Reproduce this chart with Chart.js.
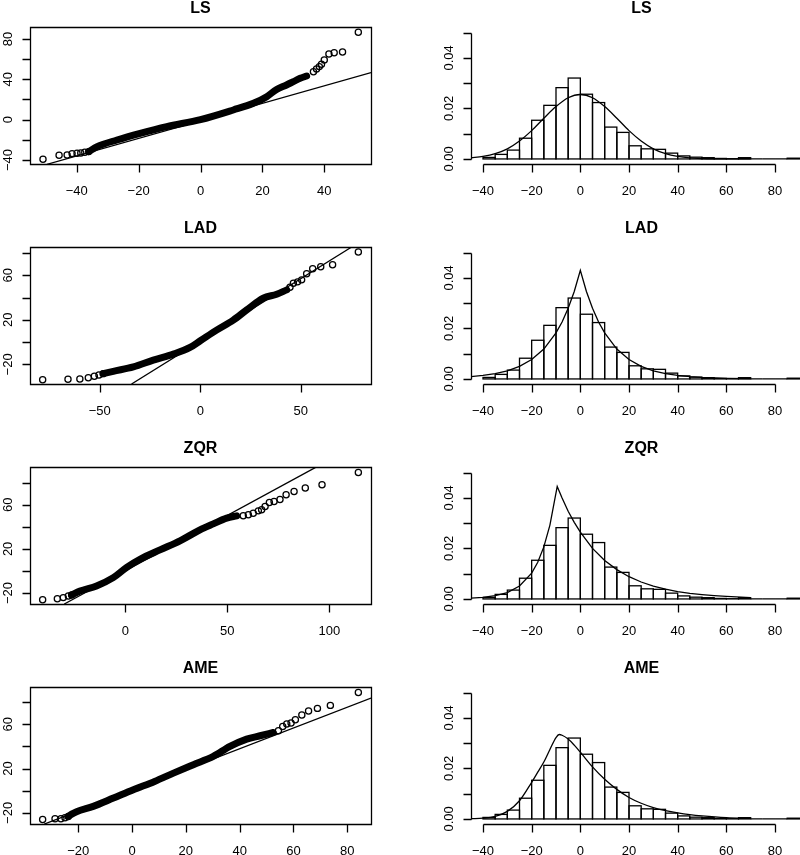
<!DOCTYPE html>
<html>
<head>
<meta charset="utf-8">
<script src="https://cdn.jsdelivr.net/npm/chart.js@4.4.0/dist/chart.umd.min.js"></script>
<style>
html, body { margin: 0; padding: 0; width: 800px; height: 855px; overflow: hidden; background: #fff; }
canvas { position: absolute; }
</style>
</head>
<body>
<script>
// ---- data ----
const titles = ["LS", "LAD", "ZQR", "AME"];

// QQ plots: sparse tail points (drawn as circles)
const lsPtsX = [-50.9, -45.7, -43.1, -41.5, -39.9, -38.7, -37.4, -36.1, 36.5, 37.5, 38.4, 39.1, 40.0, 41.5, 43.2, 45.9, 51.0];
const lsPtsY = [-39.3, -35.4, -35.0, -33.7, -33.4, -33.0, -32.4, -31.7, 47.6, 50.2, 52.6, 54.9, 59.2, 65.1, 66.4, 67.1, 86.6];
const ladPtsX = [-78.4, -65.8, -59.9, -55.7, -52.7, -50.4, -48.3, 44.6, 46.3, 48.4, 50.4, 52.9, 55.9, 59.9, 65.8, 78.6];
const ladPtsY = [-33.7, -33.4, -33.1, -31.9, -30.7, -29.5, -28.3, 49.3, 52.9, 54.1, 55.9, 61.4, 65.9, 67.7, 69.5, 80.9];
const zqrPtsX = [-40.5, -33.3, -30.4, -27.9, -26.3, 57.8, 60.3, 62.7, 65.2, 66.8, 68.5, 70.6, 72.9, 75.8, 78.8, 82.7, 88.2, 96.4, 114.2];
const zqrPtsY = [-26.1, -25.2, -24.2, -22.7, -21.8, 50.0, 50.9, 52.4, 54.5, 55.5, 58.5, 62.1, 63.0, 64.8, 69.1, 72.1, 75.2, 78.2, 89.4];
const amePtsX = [-33.2, -28.6, -26.4, -24.9, -23.7, 54.4, 56.0, 57.5, 59.1, 60.7, 63.1, 65.6, 68.9, 73.7, 84.1];
const amePtsY = [-25.9, -25.3, -25.3, -24.4, -23.2, 54.1, 58.0, 60.2, 61.1, 64.1, 68.3, 71.9, 74.3, 77.0, 88.7];

// QQ plots: the dense run of overlapping points
const lsBandX = [-36.1, -33.4, -27.0, -19.5, -10.9, 0.0, 10.6, 17.1, 21.4, 24.6, 27.8, 30.0, 32.2, 34.3];
const lsBandY = [-31.7, -26.8, -20.2, -13.6, -6.9, 0.0, 9.6, 16.2, 22.8, 30.0, 34.4, 37.7, 41.0, 43.3];
const ladBandX = [-48.3, -43.3, -33.3, -23.4, -13.4, -5.1, 0.0, 8.1, 16.4, 23.1, 31.3, 38.0, 43.0];
const ladBandY = [-28.3, -26.2, -22.3, -16.2, -10.8, -4.8, 1.2, 10.8, 19.8, 28.9, 39.4, 43.0, 46.9];
const zqrBandX = [-26.3, -22.2, -14.1, -5.9, 0.7, 7.2, 17.0, 26.8, 36.6, 43.1, 49.7, 54.6];
const zqrBandY = [-21.8, -18.2, -13.6, -6.1, 3.3, 10.6, 19.1, 27.3, 37.3, 42.7, 47.9, 50.0];
const ameBandX = [-23.7, -22.4, -20.6, -14.4, -6.9, 0.5, 8.4, 15.4, 22.8, 30.2, 36.4, 42.6, 47.6, 52.5];
const ameBandY = [-23.2, -21.1, -18.9, -14.1, -6.6, 0.9, 8.4, 15.9, 23.5, 31.0, 40.0, 46.6, 49.6, 52.6];

// QQ reference lines [x1, y1, x2, y2]
const lsLine = [-49.6, -44.3, 55.1, 46.6];
const ladLine = [-34.2, -37.6, 75.3, 85.4];
const zqrLine = [-29.9, -30.0, 93.5, 94.2];
const ameLine = [-32.6, -30.1, 88.8, 83.6];

// QQ tick values / labelled ticks
const lsXTicks = [-40, -20, 0, 20, 40];
const lsYTicks = [-40, -20, 0, 20, 40, 60, 80];
const lsYLabels = [-40, 0, 40, 80];
const ladXTicks = [-50, 0, 50];
const zqrXTicks = [0, 50, 100];
const ameXTicks = [-20, 0, 20, 40, 60, 80];
const qqYTicks = [-20, 0, 20, 40, 60, 80];
const qqYLabels = [-20, 20, 60];

// histogram (same in every panel)
const binStart = [-40, -35, -30, -25, -20, -15, -10, -5, 0, 5, 10, 15, 20, 25, 30, 35, 40, 45, 50, 55, 60, 65, 70, 75, 80, 85];
const binWidth = 5;
const density = [0.0006, 0.0018, 0.0035, 0.0082, 0.0153, 0.0212, 0.0282, 0.0320, 0.0256, 0.0223, 0.0126, 0.0105, 0.0052, 0.0040, 0.0038, 0.0023, 0.0012, 0.0007, 0.0005, 0.0002, 0.0001, 0.0005, 0, 0, 0, 0.0003];
const histXTicks = [-40, -20, 0, 20, 40, 60, 80];
const histYTicks = [0, 0.01, 0.02, 0.03, 0.04, 0.05];
const histYLabels = [0, 0.02, 0.04];

// fitted density curves
const lsCurveX = [-45, -40, -35, -30, -25, -20, -15, -10, -5, 0, 5, 10, 15, 20, 25, 30, 35, 40, 45, 50, 55, 60, 70];
const lsCurveY = [0.0004, 0.0010, 0.0021, 0.0040, 0.0071, 0.0112, 0.0161, 0.0207, 0.0242, 0.0255, 0.0242, 0.0207, 0.0161, 0.0112, 0.0071, 0.0040, 0.0021, 0.0010, 0.0004, 0.00015, 0.00005, 0.00002, 0];
const ladCurveX = [-45, -40, -35, -30, -25, -20, -15, -10, -7.5, -5, -2.5, 0, 2.5, 5, 7.5, 10, 15, 20, 25, 30, 35, 40, 45, 50, 60, 70];
const ladCurveY = [0.0009, 0.0014, 0.0021, 0.0032, 0.0050, 0.0077, 0.0118, 0.0182, 0.0225, 0.0280, 0.0346, 0.0430, 0.0346, 0.0280, 0.0225, 0.0182, 0.0118, 0.0077, 0.0050, 0.0032, 0.0021, 0.0014, 0.0009, 0.0006, 0.00025, 0.0001];
const zqrCurveX = [-45, -40, -35, -30, -25, -20, -17.5, -15, -12.5, -9.5, -7.5, -5, -2.5, 0, 5, 10, 15, 20, 25, 30, 35, 40, 45, 50, 55, 60, 70];
const zqrCurveY = [0.0003, 0.0006, 0.0013, 0.0025, 0.0051, 0.0102, 0.0145, 0.0206, 0.0292, 0.0445, 0.0399, 0.0347, 0.0303, 0.0264, 0.0200, 0.0152, 0.0116, 0.0088, 0.0067, 0.0051, 0.0039, 0.0029, 0.0022, 0.0017, 0.0013, 0.0010, 0.0005];
const ameCurveX = [-45, -40, -35, -30, -25, -20, -17.5, -15, -12.5, -10, -8.7, -7.5, -5, -2.5, 0, 5, 10, 15, 20, 25, 30, 35, 40, 45, 50, 60, 70];
const ameCurveY = [0.0001, 0.0003, 0.0010, 0.0030, 0.0072, 0.0145, 0.0185, 0.0225, 0.0275, 0.0322, 0.0334, 0.0331, 0.0316, 0.0292, 0.0264, 0.0206, 0.0157, 0.0117, 0.0085, 0.0062, 0.0045, 0.0033, 0.0024, 0.0017, 0.0012, 0.0005, 0.0002];

// ---- layout ----
const FONT = '"Liberation Sans", Arial, Helvetica, sans-serif';
const ROW_H = 220;

const qqPanels = [
  { ptsX: lsPtsX, ptsY: lsPtsY, bandX: lsBandX, bandY: lsBandY, line: lsLine, xr: [-55.1, 55.1], yr: [-44.0, 91.9], xTicks: lsXTicks, xLabels: lsXTicks, yTicks: lsYTicks, yLabels: lsYLabels },
  { ptsX: ladPtsX, ptsY: ladPtsY, bandX: ladBandX, bandY: ladBandY, line: ladLine, xr: [-84.7, 84.9], yr: [-37.6, 85.4], xTicks: ladXTicks, xLabels: ladXTicks, yTicks: qqYTicks, yLabels: qqYLabels },
  { ptsX: zqrPtsX, ptsY: zqrPtsY, bandX: zqrBandX, bandY: zqrBandY, line: zqrLine, xr: [-46.7, 120.4], yr: [-30.0, 94.3], xTicks: zqrXTicks, xLabels: zqrXTicks, yTicks: qqYTicks, yLabels: qqYLabels },
  { ptsX: amePtsX, ptsY: amePtsY, bandX: ameBandX, bandY: ameBandY, line: ameLine, xr: [-37.9, 88.8], yr: [-30.0, 93.6], xTicks: ameXTicks, xLabels: ameXTicks, yTicks: qqYTicks, yLabels: qqYLabels }
];
const curves = [
  { x: lsCurveX, y: lsCurveY, smooth: true },
  { x: ladCurveX, y: ladCurveY, smooth: false },
  { x: zqrCurveX, y: zqrCurveY, smooth: false },
  { x: ameCurveX, y: ameCurveY, smooth: true }
];

function xy(xs, ys) {
  return xs.map((v, i) => ({ x: v, y: ys[i] }));
}

function fmt(v, dec) {
  return v.toFixed(dec).replace('-', '\u2212');
}

// R-style axes, box and title drawn from the chart's own scales
function rAxes(o) {
  return {
    id: 'rAxes',
    afterDatasetsDraw(chart) {
      // outline the histogram bars (R draws each rect with a centred stroke)
      if (!o.outlineBars) return;
      const ctx = chart.ctx;
      const meta = chart.getDatasetMeta(o.outlineBars);
      ctx.save();
      ctx.strokeStyle = '#000';
      ctx.lineWidth = 1.3;
      meta.data.forEach(el => {
        const { x, y, base, width } = el.getProps(['x', 'y', 'base', 'width'], true);
        ctx.strokeRect(x - width / 2, y, width, base - y);
      });
      ctx.restore();
    },
    afterDraw(chart) {
      const ctx = chart.ctx, a = chart.chartArea;
      const sx = chart.scales.x, sy = chart.scales.y;
      const px = v => Math.round(sx.getPixelForValue(v)) + 0.5;
      const py = v => Math.round(sy.getPixelForValue(v)) + 0.5;
      const L = Math.round(a.left) + 0.5, R = Math.round(a.right) + 0.5;
      const T = Math.round(a.top) + 0.5, B = Math.round(a.bottom) + 0.5;
      ctx.save();
      ctx.strokeStyle = '#000';
      ctx.fillStyle = '#000';
      ctx.lineWidth = 1.3;
      ctx.beginPath();
      if (o.box) {
        ctx.rect(L, T, R - L, B - T);
      } else {
        ctx.moveTo(px(o.xTicks[0]), B);
        ctx.lineTo(px(o.xTicks[o.xTicks.length - 1]), B);
        ctx.moveTo(L, py(o.yTicks[0]));
        ctx.lineTo(L, py(o.yTicks[o.yTicks.length - 1]));
      }
      o.xTicks.forEach(v => { ctx.moveTo(px(v), B); ctx.lineTo(px(v), B + 8); });
      o.yTicks.forEach(v => { ctx.moveTo(L, py(v)); ctx.lineTo(L - 8, py(v)); });
      ctx.stroke();

      ctx.font = '13px ' + FONT;
      ctx.textAlign = 'center';
      ctx.textBaseline = 'alphabetic';
      o.xLabels.forEach(v => ctx.fillText(fmt(v, 0), sx.getPixelForValue(v), a.bottom + 31));
      o.yLabels.forEach(v => {
        ctx.save();
        ctx.translate(a.left - 18.5, sy.getPixelForValue(v));
        ctx.rotate(-Math.PI / 2);
        ctx.fillText(fmt(v, o.yDec || 0), 0, 0);
        ctx.restore();
      });
      ctx.font = 'bold 16px ' + FONT;
      ctx.fillText(o.title, (a.left + a.right) / 2, 13.3);
      ctx.restore();
    }
  };
}

function makeCanvas(left, top, w, h) {
  const c = document.createElement('canvas');
  c.width = w;
  c.height = h;
  c.style.left = left + 'px';
  c.style.top = top + 'px';
  c.style.width = w + 'px';
  c.style.height = h + 'px';
  document.body.appendChild(c);
  return c;
}

const common = {
  responsive: false,
  animation: false,
  events: [],
  devicePixelRatio: 1,
  plugins: { legend: { display: false }, tooltip: { enabled: false } }
};

for (let r = 0; r < 4; r++) {
  const p = qqPanels[r];
  // QQ plot, left column
  new Chart(makeCanvas(0, r * ROW_H, 400, ROW_H), {
    type: 'scatter',
    data: {
      datasets: [
        { data: xy(p.ptsX, p.ptsY), pointRadius: 3.1, pointBorderWidth: 1.25, borderColor: '#000', pointBackgroundColor: 'rgba(0,0,0,0)', backgroundColor: 'rgba(0,0,0,0)' },
        { data: xy(p.bandX, p.bandY), showLine: true, borderWidth: 7, borderColor: '#000', pointRadius: 0, cubicInterpolationMode: 'monotone', borderCapStyle: 'round', borderJoinStyle: 'round' },
        { data: [{ x: p.line[0], y: p.line[1] }, { x: p.line[2], y: p.line[3] }], showLine: true, borderWidth: 1.3, borderColor: '#000', pointRadius: 0, clip: 0 }
      ]
    },
    options: Object.assign({}, common, {
      layout: { padding: { left: 30, right: 29, top: 27, bottom: 56 } },
      scales: {
        x: { type: 'linear', display: false, min: p.xr[0], max: p.xr[1] },
        y: { type: 'linear', display: false, min: p.yr[0], max: p.yr[1] }
      }
    }),
    plugins: [rAxes({ box: true, title: titles[r], xTicks: p.xTicks, xLabels: p.xLabels, yTicks: p.yTicks, yLabels: p.yLabels })]
  });

  // histogram + fitted density, right column
  const cv = curves[r];
  new Chart(makeCanvas(400, r * ROW_H, 420, ROW_H), {
    type: 'bar',
    data: {
      datasets: [
        { type: 'line', data: xy(cv.x, cv.y), borderColor: '#000', borderWidth: 1.3, pointRadius: 0, fill: false,
          cubicInterpolationMode: cv.smooth ? 'monotone' : 'default', tension: 0, order: 1, clip: 0 },
        { type: 'bar', data: binStart.map((s, i) => ({ x: s + binWidth / 2, y: density[i] })),
          backgroundColor: 'rgba(0,0,0,0)', borderWidth: 0, inflateAmount: 0,
          barPercentage: 1, categoryPercentage: 1, order: 2 }
      ]
    },
    options: Object.assign({}, common, {
      layout: { padding: { left: 71, right: 8, top: 29, bottom: 56 } },
      scales: {
        x: { type: 'linear', offset: false, display: false, min: -44.93, max: 95.2 },
        y: { type: 'linear', display: false, min: -0.002, max: 0.0514 }
      }
    }),
    plugins: [rAxes({ box: false, title: titles[r], xTicks: histXTicks, xLabels: histXTicks, yTicks: histYTicks, yLabels: histYLabels, yDec: 2, outlineBars: 1 })]
  });
}
</script>
</body>
</html>
